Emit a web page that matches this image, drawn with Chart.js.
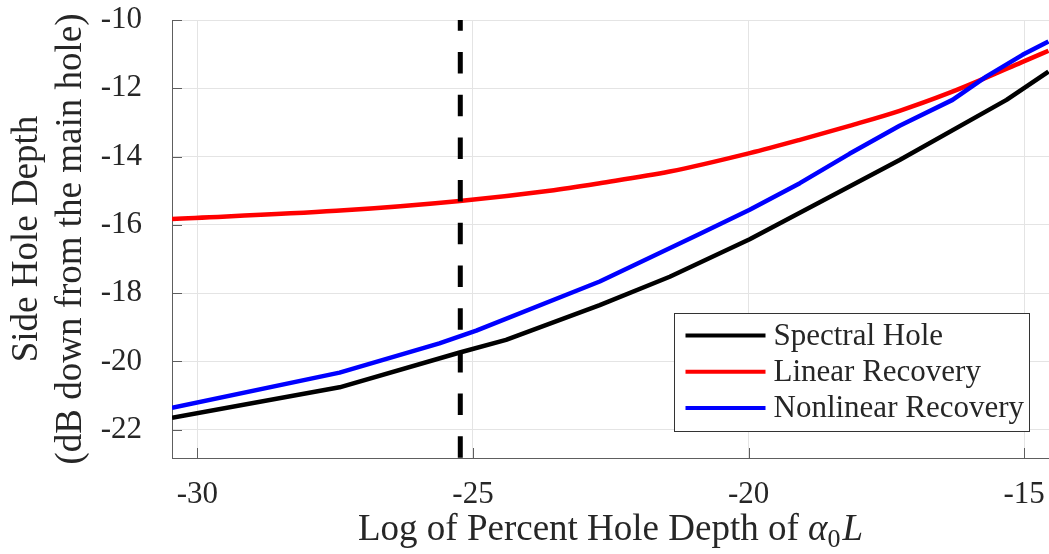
<!DOCTYPE html>
<html>
<head>
<meta charset="utf-8">
<script src="https://cdn.jsdelivr.net/npm/chart.js@4/dist/chart.umd.min.js"></script>
<style>
  html, body { margin: 0; padding: 0; background: #ffffff; }
  #wrap { width: 1049px; height: 554px; overflow: hidden; }
</style>
</head>
<body>
<div id="wrap"><canvas id="c" width="1049" height="554"></canvas></div>
<script>
// Tick positions
const xTicks = [-30, -25, -20, -15];
const yTicks = [-22, -20, -18, -16, -14, -12, -10];

// Axis ranges
const xRange = [-30.46, -14.55];
const yRange = [-22.83, -10];

// Spectral Hole
const spectralX = [-30.46, -27.42, -25.24, -24.40, -22.70, -21.43, -19.98, -18.71, -17.26, -15.32, -14.56];
const spectralY = [-21.65, -20.76, -19.74, -19.37, -18.35, -17.52, -16.42, -15.34, -14.10, -12.34, -11.51];

// Linear Recovery
const linearX = [-30.46, -27.48, -25.24, -23.61, -22.70, -21.43, -19.98, -19.07, -18.17, -17.26, -16.35, -15.69, -15.05, -14.56];
const linearY = [-15.83, -15.59, -15.30, -15.00, -14.78, -14.44, -13.90, -13.51, -13.10, -12.66, -12.13, -11.69, -11.24, -10.90];

// Nonlinear Recovery
const nonlinearX = [-30.46, -27.42, -25.61, -24.94, -22.70, -20.89, -19.98, -19.07, -18.17, -17.26, -16.30, -15.69, -15.03, -14.56];
const nonlinearY = [-21.36, -20.33, -19.47, -19.10, -17.66, -16.27, -15.56, -14.78, -13.92, -13.10, -12.34, -11.66, -11.02, -10.63];

// Threshold marker
const thresholdX = -25.23;

const seriesLabels = ['Spectral Hole', 'Linear Recovery', 'Nonlinear Recovery'];
const seriesColors = ['#000000', '#ff0000', '#0000ff'];

const FONT = '"Liberation Serif", "Times New Roman", serif';
const TEXT = '#262626';
const AXIS = '#5e5e5e';
const TICK_SIZE = 31;
const LABEL_SIZE = 37;

function pts(xs, ys) { return xs.map((x, i) => ({ x: x, y: ys[i] })); }

// Inward tick marks along the left and bottom axes
const innerTicks = {
  id: 'innerTicks',
  afterDraw(chart) {
    const { ctx, chartArea: a, scales } = chart;
    ctx.save();
    ctx.strokeStyle = AXIS;
    ctx.lineWidth = 1;
    ctx.beginPath();
    yTicks.forEach(v => {
      const y = Math.round(scales.y.getPixelForValue(v)) + 0.5;
      ctx.moveTo(a.left, y); ctx.lineTo(a.left + 10, y);
    });
    xTicks.forEach(v => {
      const x = Math.round(scales.x.getPixelForValue(v)) + 0.5;
      ctx.moveTo(x, a.bottom); ctx.lineTo(x, a.bottom - 10);
    });
    ctx.stroke();
    ctx.restore();
  }
};

// Axis titles (x title contains math: alpha_0 L)
const axisTitles = {
  id: 'axisTitles',
  afterDraw(chart) {
    const { ctx, chartArea: a } = chart;
    ctx.save();
    ctx.fillStyle = TEXT;
    ctx.textBaseline = 'alphabetic';
    const parts = [
      { t: 'Log of Percent Hole Depth of ', f: LABEL_SIZE + 'px ' + FONT, dy: 0 },
      { t: '\u03B1', f: 'italic ' + LABEL_SIZE + 'px ' + FONT, dy: 0 },
      { t: '0', f: Math.round(LABEL_SIZE * 0.7) + 'px ' + FONT, dy: 7 },
      { t: 'L', f: 'italic ' + LABEL_SIZE + 'px ' + FONT, dy: 0, pre: 2 }
    ];
    let total = 0;
    parts.forEach(p => { ctx.font = p.f; p.w = ctx.measureText(p.t).width; total += p.w + (p.pre || 0); });
    let x = (a.left + a.right) / 2 - total / 2;
    const base = 540;
    ctx.textAlign = 'left';
    parts.forEach(p => {
      x += (p.pre || 0);
      ctx.font = p.f;
      ctx.fillText(p.t, x, base + p.dy);
      x += p.w;
    });
    // y title, two lines rotated
    const cy = (a.top + a.bottom) / 2;
    ctx.font = LABEL_SIZE + 'px ' + FONT;
    ctx.textAlign = 'center';
    ctx.textBaseline = 'alphabetic';
    ctx.translate(0, cy);
    ctx.rotate(-Math.PI / 2);
    ctx.fillText('Side Hole Depth', 0, 37);
    ctx.fillText('(dB down from the main hole)', 0, 81);
    ctx.restore();
  }
};

// Boxed legend inside the lower-right of the plot
const boxLegend = {
  id: 'boxLegend',
  afterDraw(chart) {
    const { ctx, chartArea: a } = chart;
    const w = 355, h = 118;
    const left = Math.round(a.right - 20 - w) + 0.5;
    const top = Math.round(a.bottom - 27 - h) + 0.5;
    ctx.save();
    ctx.fillStyle = '#ffffff';
    ctx.fillRect(left, top, w, h);
    ctx.strokeStyle = '#333333';
    ctx.lineWidth = 1;
    ctx.strokeRect(left, top, w, h);
    ctx.font = TICK_SIZE + 'px ' + FONT;
    ctx.textBaseline = 'middle';
    ctx.textAlign = 'left';
    seriesLabels.forEach((lab, i) => {
      const y = top + 22 + i * 36.3;
      ctx.strokeStyle = seriesColors[i];
      ctx.lineWidth = 4;
      ctx.beginPath();
      ctx.moveTo(left + 11, y); ctx.lineTo(left + 91, y);
      ctx.stroke();
      ctx.fillStyle = TEXT;
      ctx.fillText(lab, left + 99, y + 1);
    });
    ctx.restore();
  }
};

const lineDefaults = { showLine: true, pointRadius: 0, borderWidth: 4.5, fill: false, borderCapStyle: 'butt', borderJoinStyle: 'round' };

new Chart(document.getElementById('c'), {
  type: 'scatter',
  data: {
    datasets: [
      Object.assign({ label: seriesLabels[0], data: pts(spectralX, spectralY), borderColor: seriesColors[0], order: 3, tension: 0 }, lineDefaults),
      Object.assign({ label: seriesLabels[1], data: pts(linearX, linearY), borderColor: seriesColors[1], order: 2, cubicInterpolationMode: 'monotone' }, lineDefaults),
      Object.assign({ label: seriesLabels[2], data: pts(nonlinearX, nonlinearY), borderColor: seriesColors[2], order: 1, tension: 0 }, lineDefaults),
      {
        label: 'threshold',
        data: [{ x: thresholdX, y: yRange[1] }, { x: thresholdX, y: yRange[0] }],
        showLine: true, pointRadius: 0, borderWidth: 5, borderColor: '#000000',
        borderDash: [21.5, 21.2], borderDashOffset: 10.7, borderCapStyle: 'butt', order: 0
      }
    ]
  },
  options: {
    responsive: false,
    devicePixelRatio: 1,
    animation: false,
    layout: { padding: { top: 20, right: 0, left: 0, bottom: 0 } },
    plugins: { legend: { display: false }, tooltip: { enabled: false } },
    scales: {
      x: {
        type: 'linear', min: xRange[0], max: xRange[1],
        afterBuildTicks: s => { s.ticks = xTicks.map(v => ({ value: v })); },
        afterFit: s => { s.height = 96; s.paddingLeft = 0; s.paddingRight = 0; },
        grid: { color: '#e4e4e4', lineWidth: 1, drawTicks: false },
        border: { display: true, color: AXIS, width: 1 },
        ticks: { font: { family: FONT, size: TICK_SIZE }, color: TEXT, padding: 18, maxRotation: 0 }
      },
      y: {
        type: 'linear', min: yRange[0], max: yRange[1],
        afterBuildTicks: s => { s.ticks = yTicks.map(v => ({ value: v })); },
        afterFit: s => { s.width = 172; s.paddingTop = 0; s.paddingBottom = 0; },
        grid: { color: '#e4e4e4', lineWidth: 1, drawTicks: false },
        border: { display: true, color: AXIS, width: 1 },
        ticks: { font: { family: FONT, size: TICK_SIZE }, color: TEXT, padding: 30 }
      }
    }
  },
  plugins: [innerTicks, axisTitles, boxLegend]
});
</script>
</body>
</html>
